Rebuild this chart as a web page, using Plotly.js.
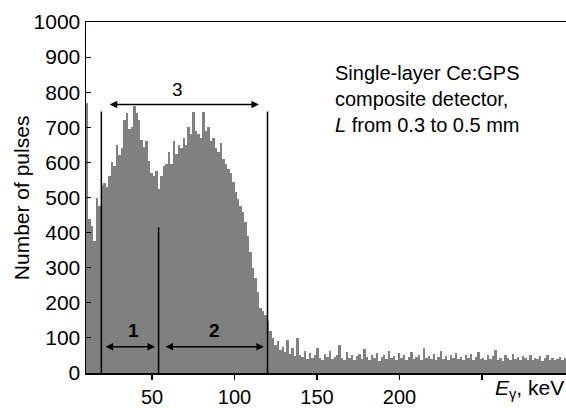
<!DOCTYPE html>
<html>
<head>
<meta charset="utf-8">
<script src="https://cdn.plot.ly/plotly-3.0.1.min.js"></script>
<style>html,body{margin:0;padding:0;background:#fff}#chart{width:566px;height:408px}</style>
</head>
<body>
<div id="chart"></div>
<script>
// Histogram of pulse counts vs gamma energy (keV), bins of equal width
const binStartKeV = 10;
const binWidthKeV = 1.5;
const counts = [
  770, 440, 420, 375, 500, 475, 535, 540, 530, 560,
  600, 590, 650, 620, 640, 720, 740, 695, 700, 760,
  740, 720, 665, 645, 660, 605, 570, 560, 575, 525,
  560, 590, 595, 630, 595, 660, 625, 650, 640, 670,
  650, 700, 680, 745, 690, 680, 670, 745, 690, 700,
  660, 670, 640, 630, 655, 610, 595, 580, 570, 545,
  515, 495, 475, 460, 430, 390, 345, 300, 272, 230,
  185, 178, 165, 148, 120, 100, 80, 90, 65, 75,
  60, 95, 55, 70, 48, 100, 52, 45, 62, 40,
  58, 44, 50, 70, 42, 38, 55, 47, 62, 40,
  45, 52, 80, 44, 38, 60, 42, 50, 36, 48,
  55, 40, 68, 45, 38, 50, 42, 58, 35, 46,
  52, 40, 62, 44, 48, 38, 56, 42, 50, 36,
  47, 60, 40, 45, 52, 38, 70, 42, 48, 40,
  54, 36, 46, 62, 40, 48, 38, 52, 44, 58,
  40, 46, 36, 50, 42, 55, 38, 45, 60, 40,
  44, 36, 52, 40, 48, 65, 38, 44, 35, 50,
  42, 38, 55, 40, 46, 36, 48, 42, 38, 52,
  36, 44, 40, 48, 35, 42, 50, 38, 44, 36,
  40, 46, 38, 42
];

// Axis ticks
const xTickValues = [50, 100, 150, 200, 250];
const xTickLabels = ['50', '100', '150', '200', ''];

// Energy window boundaries (keV) and the height of each boundary line (pulses)
const boundaryEnergy = [19.3, 54, 120];
const boundaryHeight = [745, 415, 745];

// Energy windows 1, 2, 3 (keV) and the level (pulses) where their arrows sit
const windowLabels = ['1', '2', '3'];
const windowStart = [21, 57.3, 23.5];
const windowEnd = [51.8, 117.8, 114.8];
const windowLevel = [75, 75, 765];
const windowLabelEnergy = [39, 87.6, 65.2];
const windowLabelLevel = [122, 122, 808];

const FONT = 'Liberation Sans, Arial, Helvetica, sans-serif';

const trace = {
  type: 'bar',
  x0: binStartKeV + binWidthKeV / 2,
  dx: binWidthKeV,
  y: counts,
  marker: {color: '#808080', line: {width: 0}},
  hoverinfo: 'x+y'
};

const shapes = boundaryEnergy.map((e, i) => ({
  type: 'line', xref: 'x', yref: 'y',
  x0: e, x1: e, y0: 0, y1: boundaryHeight[i],
  line: {color: '#000', width: 1.5}
}));

const annotations = [];
windowLabels.forEach((lab, i) => {
  annotations.push({
    xref: 'x', yref: 'y', axref: 'x', ayref: 'y',
    x: windowEnd[i], y: windowLevel[i], ax: windowStart[i], ay: windowLevel[i],
    text: '', showarrow: true, arrowhead: 2, arrowside: 'end+start',
    arrowsize: 1, arrowwidth: 1.5, arrowcolor: '#000', standoff: 0, startstandoff: 0
  });
  annotations.push({
    xref: 'x', yref: 'y', x: windowLabelEnergy[i], y: windowLabelLevel[i],
    text: i < 2 ? '<b>' + lab + '</b>' : lab, showarrow: false,
    font: {family: FONT, size: 19, color: '#000'}
  });
});

annotations.push({
  xref: 'paper', yref: 'paper', x: 0.5146, y: 0.782,
  xanchor: 'left', yanchor: 'middle', align: 'left', showarrow: false,
  text: 'Single-layer Ce:GPS<br>composite detector,<br><i>L</i> from 0.3 to 0.5 mm',
  font: {family: FONT, size: 20, color: '#000'}
});
annotations.push({
  xref: 'paper', yref: 'paper', x: -0.134, y: 0.5,
  xanchor: 'center', yanchor: 'middle', textangle: -90, showarrow: false,
  text: 'Number of pulses',
  font: {family: FONT, size: 21, color: '#000'}
});
annotations.push({
  xref: 'paper', yref: 'paper', x: 1.0, y: -0.045,
  xanchor: 'right', yanchor: 'middle', showarrow: false,
  text: '<i>E</i><sub>γ</sub>, keV',
  font: {family: FONT, size: 21, color: '#000'}
});

const layout = {
  width: 566, height: 408,
  margin: {l: 86, r: 0, t: 22, b: 35, pad: 0},
  paper_bgcolor: '#fff', plot_bgcolor: '#fff',
  bargap: 0,
  showlegend: false,
  font: {family: FONT, size: 20, color: '#000'},
  xaxis: {
    range: [10, 300.9], tickvals: xTickValues, ticktext: xTickLabels,
    ticks: 'outside', ticklen: 5, tickwidth: 1.5, tickcolor: '#000',
    showline: true, linecolor: '#000', linewidth: 1.5, mirror: true,
    showgrid: false, zeroline: false,
    tickfont: {family: FONT, size: 20, color: '#000'}
  },
  yaxis: {
    range: [0, 1000], dtick: 100, tick0: 0,
    ticks: 'inside', ticklen: 5, tickwidth: 1, tickcolor: '#000',
    showline: true, linecolor: '#000', linewidth: 1.5,
    showgrid: false, zeroline: false,
    tickfont: {family: FONT, size: 21, color: '#000'}
  },
  shapes: shapes,
  annotations: annotations
};

Plotly.newPlot('chart', [trace], layout, {displayModeBar: false, staticPlot: true});
</script>
</body>
</html>
